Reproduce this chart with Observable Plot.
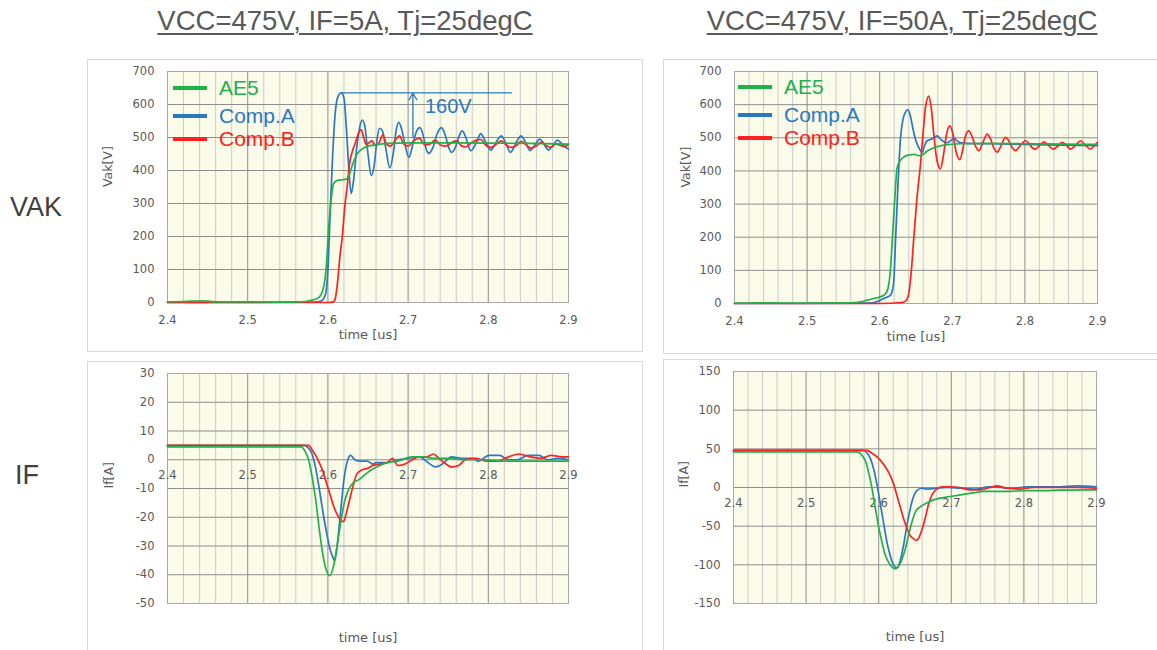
<!DOCTYPE html>
<html><head><meta charset="utf-8">
<script src="https://cdn.jsdelivr.net/npm/d3@7"></script>
<script src="https://cdn.jsdelivr.net/npm/@observablehq/plot@0.6"></script>
<style>
body{margin:0;background:#fff;}
#root{position:relative;width:1157px;height:650px;overflow:hidden;background:#fff;font-family:"Liberation Sans",Arial,sans-serif;}
.panel{position:absolute;border:1.5px solid #d9d9d9;box-sizing:border-box;}
.title{position:absolute;width:560px;text-align:center;font-size:27.5px;line-height:27px;color:#595959;text-decoration:underline;text-decoration-thickness:1.5px;text-underline-offset:3px;white-space:nowrap}
.row{position:absolute;font-size:27px;line-height:27px;color:#404040;white-space:nowrap}
.chart{position:absolute}
.leg{position:absolute;display:flex;align-items:center;height:24px;font-size:21px;line-height:24px;white-space:nowrap}
.leg .sw{display:inline-block;width:34px;height:4px;margin-right:12px}
</style></head><body><div id="root"></div>
<script>
// ---------- labels ----------
const titles = ["VCC=475V, IF=5A, Tj=25degC", "VCC=475V, IF=50A, Tj=25degC"];
const rowLabels = ["VAK", "IF"];
const seriesNames = ["AE5", "Comp.A", "Comp.B"];
const seriesColors = ["#22b04b", "#2a78c2", "#ff2020"];
const xLabel = "time [us]";

// ---------- axes ----------
const xDomain = [2.4, 2.9];
const xMajor = [2.4, 2.5, 2.6, 2.7, 2.8, 2.9];
const xMinor = [2.42,2.44,2.46,2.48,2.52,2.54,2.56,2.58,2.62,2.64,2.66,2.68,2.72,2.74,2.76,2.78,2.82,2.84,2.86,2.88];
const vakTicks = [0, 100, 200, 300, 400, 500, 600, 700];
const if5Ticks = [-50, -40, -30, -20, -10, 0, 10, 20, 30];
const if50Ticks = [-150, -100, -50, 0, 50, 100, 150];

// ---------- VAK, IF=5A  [time us, V] ----------
const vak5_AE5 = [[2.400,2],[2.420,3],[2.445,5],[2.460,2],[2.500,2],[2.540,1],[2.565,2],[2.578,6],[2.588,14],[2.594,40],[2.598,110],[2.601,228],[2.604,310],[2.607,360],[2.612,370],[2.618,372],[2.623,374],[2.627,390],[2.631,420],[2.636,448],[2.641,462],[2.649,473],[2.660,478],[2.675,482],[2.700,484],[2.750,484],[2.800,483],[2.850,482],[2.900,480]];
const vak5_CompA = [[2.400,0],[2.500,0],[2.585,1],[2.592,5],[2.597,25],[2.600,100],[2.603,280],[2.606,450],[2.609,570],[2.612,620],[2.6166,635],[2.620,620],[2.623,530],[2.626,410],[2.629,330],[2.632,370],[2.636,470],[2.640,535],[2.6428,553],[2.646,535],[2.650,450],[2.654,385],[2.658,420],[2.661,490],[2.6647,528],[2.668,520],[2.672,470],[2.6772,408],[2.682,460],[2.685,520],[2.6884,546],[2.692,525],[2.696,480],[2.7009,440],[2.706,480],[2.710,515],[2.7146,530],[2.719,505],[2.722,470],[2.726,452],[2.731,470],[2.736,510],[2.7415,530],[2.746,510],[2.750,475],[2.754,455],[2.759,470],[2.763,500],[2.7673,520],[2.772,500],[2.775,475],[2.7784,460],[2.783,475],[2.787,495],[2.7905,512],[2.795,495],[2.799,475],[2.803,462],[2.808,478],[2.812,495],[2.8163,505],[2.820,492],[2.824,470],[2.8274,455],[2.832,470],[2.836,490],[2.8408,505],[2.845,492],[2.849,472],[2.8519,460],[2.856,470],[2.860,485],[2.8639,495],[2.868,486],[2.872,470],[2.8751,462],[2.879,472],[2.883,485],[2.8861,492],[2.890,485],[2.894,475],[2.900,465]];
const vak5_CompB = [[2.400,0],[2.500,0],[2.600,0],[2.607,2],[2.609,10],[2.612,60],[2.615,140],[2.618,200],[2.621,290],[2.624,350],[2.627,420],[2.631,462],[2.634,482],[2.638,512],[2.6413,524],[2.645,497],[2.648,478],[2.652,486],[2.655,490],[2.659,476],[2.664,485],[2.6685,508],[2.673,480],[2.678,474],[2.6836,490],[2.6894,505],[2.694,482],[2.700,474],[2.707,490],[2.714,498],[2.7206,478],[2.727,480],[2.734,492],[2.741,476],[2.748,474],[2.755,486],[2.761,490],[2.767,474],[2.773,472],[2.779,484],[2.785,492],[2.791,494],[2.797,476],[2.803,470],[2.810,480],[2.816,490],[2.822,478],[2.828,470],[2.835,476],[2.841,488],[2.847,478],[2.853,468],[2.860,474],[2.866,486],[2.872,476],[2.878,470],[2.884,480],[2.890,476],[2.895,472],[2.900,480]];

// ---------- VAK, IF=50A ----------
const vak50_AE5 = [[2.400,1],[2.440,2],[2.500,1],[2.560,2],[2.5736,5],[2.5827,10],[2.5919,15],[2.5988,19],[2.6057,25],[2.6103,38],[2.6149,105],[2.6181,220],[2.6209,320],[2.6241,410],[2.6286,432],[2.6332,442],[2.6401,448],[2.647,450],[2.6539,446],[2.6585,448],[2.6654,460],[2.6746,470],[2.6883,478],[2.7113,482],[2.750,483],[2.800,482],[2.850,481],[2.900,480]];
const vak50_CompA = [[2.400,0],[2.500,0],[2.585,1],[2.5919,3],[2.5988,8],[2.6057,15],[2.6126,22],[2.6149,25],[2.6175,40],[2.6195,70],[2.622,200],[2.625,350],[2.6287,500],[2.632,555],[2.635,575],[2.6387,584],[2.642,568],[2.646,525],[2.650,490],[2.654,470],[2.6585,456],[2.662,478],[2.6654,491],[2.670,495],[2.675,500],[2.6792,506],[2.684,495],[2.6884,488],[2.693,485],[2.698,492],[2.703,498],[2.708,488],[2.715,484],[2.750,482],[2.800,480],[2.850,478],[2.900,476]];
const vak50_CompB = [[2.400,0],[2.500,0],[2.600,0],[2.630,3],[2.636,8],[2.640,30],[2.644,110],[2.647,200],[2.651,310],[2.6562,421],[2.660,520],[2.663,591],[2.6677,626],[2.671,590],[2.675,500],[2.679,430],[2.6837,406],[2.688,450],[2.692,510],[2.6966,536],[2.701,510],[2.705,460],[2.7103,434],[2.714,460],[2.718,505],[2.7227,521],[2.727,505],[2.732,475],[2.7365,461],[2.742,485],[2.748,511],[2.753,495],[2.757,470],[2.7618,457],[2.767,475],[2.7733,501],[2.778,490],[2.782,472],[2.787,461],[2.793,475],[2.8008,491],[2.806,482],[2.810,470],[2.8146,466],[2.820,476],[2.826,488],[2.832,478],[2.839,466],[2.845,474],[2.8513,486],[2.857,478],[2.8628,466],[2.870,478],[2.8766,491],[2.883,478],[2.8904,466],[2.895,475],[2.900,486]];

// ---------- IF, 5A  [time us, A] ----------
const if5_AE5 = [[2.400,4.5],[2.500,4.5],[2.567,4.5],[2.5714,3],[2.5759,0],[2.5803,-6],[2.5848,-14],[2.5892,-24],[2.5937,-33],[2.5981,-38.5],[2.6026,-40.3],[2.607,-37],[2.6115,-30],[2.6159,-22],[2.6204,-15],[2.6248,-11],[2.6315,-8],[2.6382,-7],[2.6449,-5.5],[2.6516,-4],[2.6605,-2.5],[2.6738,-1],[2.6872,-0.5],[2.705,1],[2.7183,1],[2.7317,0.5],[2.7495,0.5],[2.7718,0],[2.794,0],[2.8163,-0.5],[2.8386,-0.5],[2.8608,-0.5],[2.900,-0.5]];
const if5_CompA = [[2.400,5],[2.500,5],[2.5714,5],[2.5759,4],[2.5803,2],[2.5848,-3],[2.5892,-10],[2.5937,-18],[2.5981,-25],[2.6026,-31],[2.607,-34.5],[2.6084,-35.2],[2.6115,-30],[2.6159,-18],[2.6204,-6],[2.6248,0],[2.6284,1.5],[2.6337,0],[2.6404,-0.5],[2.6493,-0.5],[2.656,-1.5],[2.6605,-1],[2.6738,-1],[2.6872,0],[2.7005,0.5],[2.7139,1],[2.725,-1],[2.734,-2.5],[2.7428,-1.5],[2.754,1],[2.7673,0.5],[2.7807,0.5],[2.7874,-0.5],[2.8007,1.5],[2.8141,1.5],[2.8252,0],[2.8363,0],[2.8497,1.5],[2.863,1.5],[2.8742,0],[2.8875,0.5],[2.900,0]];
const if5_CompB = [[2.400,5],[2.500,5],[2.5759,5],[2.5803,3.5],[2.5848,1.5],[2.5892,-1],[2.5937,-4],[2.5981,-8],[2.6026,-12],[2.607,-16],[2.6115,-19],[2.6159,-21],[2.6195,-21.5],[2.6226,-19],[2.627,-14],[2.6315,-9],[2.636,-5],[2.6427,-3.5],[2.6493,-3],[2.656,-2],[2.6649,-1.5],[2.6738,-1],[2.6805,0.5],[2.6872,-2],[2.6961,-1.5],[2.705,0],[2.7139,1],[2.7228,1],[2.7317,2],[2.7384,0.5],[2.745,-1],[2.754,-2.5],[2.7629,-2],[2.7718,0],[2.7851,0.5],[2.7985,-0.5],[2.8118,-0.5],[2.8252,1],[2.8385,2],[2.8519,1],[2.8652,0.5],[2.8785,1.5],[2.8918,1],[2.900,1]];

// ---------- IF, 50A ----------
const if50_AE5 = [[2.400,46],[2.500,46],[2.5699,46],[2.5768,42],[2.5814,35],[2.586,20],[2.5906,0],[2.5951,-25],[2.5997,-50],[2.6043,-70],[2.6089,-87],[2.6158,-100],[2.6227,-105],[2.6296,-98],[2.6365,-80],[2.6411,-62],[2.6457,-45],[2.6503,-32],[2.6572,-25],[2.6663,-20],[2.6755,-16],[2.6893,-13],[2.703,-11],[2.7168,-9],[2.7306,-7],[2.7443,-5],[2.7581,-5],[2.781,-5],[2.804,-4],[2.827,-4],[2.850,-3.5],[2.900,-3]];
const if50_CompA = [[2.400,48],[2.500,48],[2.5791,48],[2.5837,45],[2.5883,38],[2.5928,25],[2.5974,5],[2.602,-20],[2.6066,-45],[2.6112,-70],[2.6158,-88],[2.6204,-100],[2.625,-104],[2.6296,-95],[2.6342,-75],[2.6387,-50],[2.6433,-28],[2.6479,-12],[2.6525,-4],[2.6594,-1],[2.6663,-2],[2.680,-1],[2.6938,0],[2.7122,-1],[2.7352,-2],[2.7512,1],[2.7673,0],[2.7857,-1],[2.804,1],[2.827,1],[2.850,1],[2.873,2],[2.900,1]];
const if50_CompB = [[2.400,48],[2.500,48],[2.5837,48],[2.5883,46],[2.5928,43],[2.5997,38],[2.6066,30],[2.6135,20],[2.6204,5],[2.625,-10],[2.6296,-25],[2.6342,-40],[2.6387,-52],[2.6433,-62],[2.6479,-66],[2.6516,-68.5],[2.6547,-66],[2.6594,-55],[2.664,-40],[2.6686,-22],[2.6732,-10],[2.680,-2],[2.6869,1],[2.6984,1],[2.7122,0],[2.7259,-3],[2.7397,-3],[2.7535,0],[2.7627,2],[2.7765,-1],[2.7948,-2],[2.8132,0],[2.8315,0],[2.850,0],[2.873,0],[2.900,-1]];

// ---------- annotation (top-left) ----------
const annot160 = [{tPeak: 2.617, tEnd: 2.83, tArrow: 2.706, vPeak: 635, vBase: 500, tText: 2.721, vText: 594, label: "160V"}];

// ---------- page ----------
const root = document.getElementById("root");
const BG = "#fbfbe9", MAJOR = "#8e8e8e", MINOR = "#cbcbcb", TICKC = "#595959";
const TICKFONT = "'DejaVu Sans', Verdana, sans-serif";

function el(cls, css, text) {
  const d = document.createElement("div");
  d.className = cls;
  Object.assign(d.style, css);
  if (text != null) d.textContent = text;
  root.appendChild(d);
  return d;
}

el("title", {left: "65px", top: "7px"}, titles[0]);
el("title", {left: "622px", top: "7px"}, titles[1]);
el("row", {left: "10px", top: "194px"}, rowLabels[0]);
el("row", {left: "15px", top: "462px"}, rowLabels[1]);

const panels = [
  {left: 87, top: 59, w: 556, h: 293},
  {left: 663, top: 59, w: 500, h: 295},
  {left: 87, top: 361, w: 556, h: 295},
  {left: 663, top: 359, w: 500, h: 297}
];
panels.forEach(p => el("panel", {left: p.left + "px", top: p.top + "px", width: p.w + "px", height: p.h + "px"}));

function toRows(pairs) { return pairs.map(([t, v]) => ({t, v})); }

function makeChart(cfg) {
  const [sAE5, sA, sB] = cfg.series;
  const lineOpts = (c) => ({x: "t", y: "v", stroke: c, strokeWidth: 1.7, curve: "monotone-x"});
  const marks = [
    Plot.frame({fill: BG, stroke: null}),
    Plot.gridX(xMinor, {stroke: MINOR, strokeOpacity: 1, strokeWidth: 1}),
    Plot.gridY(cfg.yTicks, {stroke: MAJOR, strokeOpacity: 1, strokeWidth: 1}),
    Plot.gridX(xMajor, {stroke: MAJOR, strokeOpacity: 1, strokeWidth: 1}),
    Plot.frame({stroke: "#a8a8a8"}),
    Plot.axisY(cfg.yTicks, {tickSize: 0, tickPadding: 13, tickFormat: d => String(d), label: null, fontSize: 11.5, fill: TICKC}),
    Plot.text([cfg.yLabel], {frameAnchor: "left", rotate: -90, dx: cfg.yLabelDx, fontSize: 12.5, fill: TICKC}),
    Plot.text([xLabel], {frameAnchor: "bottom", dy: cfg.xLabelDy, fontSize: 13, fill: TICKC})
  ];
  if (cfg.xTicksAtZero) {
    marks.push(Plot.text(xMajor, {x: d => d, y: () => 0, text: d => d.toFixed(1), dy: 16, fontSize: 11.5, fill: TICKC}));
  } else {
    marks.push(Plot.axisX(xMajor, {tickSize: 0, tickPadding: 13, tickFormat: d => d.toFixed(1), label: null, fontSize: 11.5, fill: TICKC}));
  }
  if (cfg.annot) {
    const c = seriesColors[1];
    marks.push(
      Plot.ruleY(cfg.annot, {y: "vPeak", x1: "tPeak", x2: "tEnd", stroke: c, strokeWidth: 1.3}),
      Plot.arrow(cfg.annot, {x1: "tArrow", y1: "vBase", x2: "tArrow", y2: "vPeak", stroke: c, strokeWidth: 1.3, headLength: 9}),
      Plot.text(cfg.annot, {x: "tText", y: "vText", text: "label", textAnchor: "start", fontSize: 20, fill: c, fontFamily: "'Liberation Sans', Arial, sans-serif"})
    );
  }
  marks.push(
    Plot.line(toRows(sA), lineOpts(seriesColors[1])),
    Plot.line(toRows(sB), lineOpts(seriesColors[2])),
    Plot.line(toRows(sAE5), lineOpts(seriesColors[0]))
  );
  const svg = Plot.plot({
    width: cfg.w, height: cfg.h,
    marginLeft: cfg.m[0], marginRight: cfg.m[1], marginTop: cfg.m[2], marginBottom: cfg.m[3],
    x: {domain: xDomain, axis: null},
    y: {domain: cfg.yDomain, axis: null},
    style: {background: "transparent", fontFamily: TICKFONT, color: TICKC, overflow: "visible"},
    marks
  });
  const wrap = el("chart", {left: cfg.left + "px", top: cfg.top + "px", width: cfg.w + "px", height: cfg.h + "px"});
  wrap.appendChild(svg);
  if (cfg.legend) {
    seriesNames.forEach((name, i) => {
      const row = el("leg", {left: cfg.legend.x + "px", top: (cfg.legend.ys[i] - 12) + "px", color: seriesColors[i]});
      const sw = document.createElement("span");
      sw.className = "sw"; sw.style.background = seriesColors[i];
      row.appendChild(sw);
      row.appendChild(document.createTextNode(name));
    });
  }
}

makeChart({left: 87, top: 59, w: 556, h: 294, m: [80, 75, 12, 51], yDomain: [0, 700], yTicks: vakTicks, yLabel: "Vak[V]", yLabelDx: -60, xLabelDy: 36,
  series: [vak5_AE5, vak5_CompA, vak5_CompB], annot: annot160, legend: {x: 173, ys: [88, 116, 139]}});
makeChart({left: 663, top: 59, w: 494, h: 295, m: [71, 60, 12, 51], yDomain: [0, 700], yTicks: vakTicks, yLabel: "Vak[V]", yLabelDx: -49, xLabelDy: 37,
  series: [vak50_AE5, vak50_CompA, vak50_CompB], legend: {x: 738, ys: [87, 115, 138]}});
makeChart({left: 87, top: 361, w: 556, h: 290, m: [80, 75, 12, 48], yDomain: [-50, 30], yTicks: if5Ticks, yLabel: "If[A]", yLabelDx: -59, xLabelDy: 38,
  series: [if5_AE5, if5_CompA, if5_CompB], xTicksAtZero: true});
makeChart({left: 663, top: 359, w: 494, h: 292, m: [70, 61, 12, 48], yDomain: [-150, 150], yTicks: if50Ticks, yLabel: "If[A]", yLabelDx: -50, xLabelDy: 37,
  series: [if50_AE5, if50_CompA, if50_CompB], xTicksAtZero: true});
</script></body></html>
